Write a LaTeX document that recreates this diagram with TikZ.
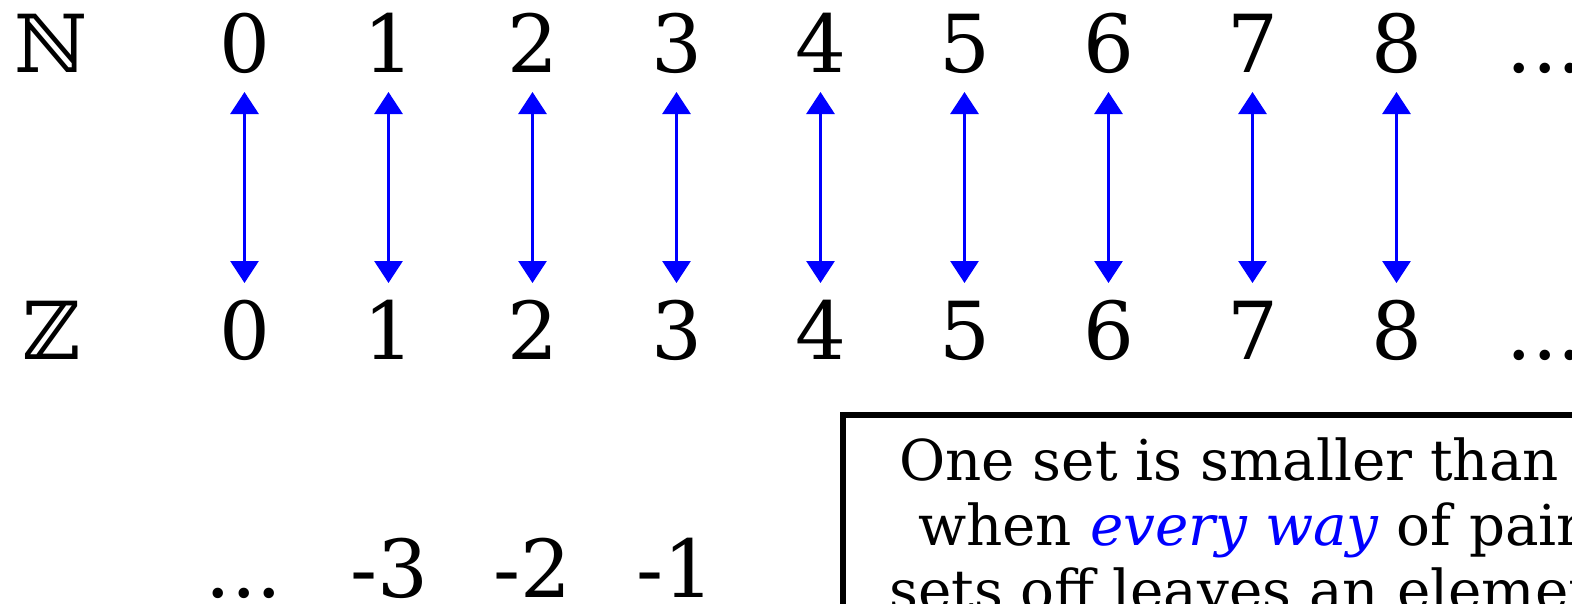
\documentclass[tikz,border=0pt]{standalone}
\usepackage{fontspec}
\setmainfont{DejaVu Serif}
\usetikzlibrary{arrows.meta}
\begin{document}
\begin{tikzpicture}[x=1pt,y=-1pt,
  big/.style={font=\fontsize{80}{96}\selectfont, inner sep=0pt, anchor=base},
  boxtext/.style={font=\fontsize{56.3}{65}\selectfont, inner sep=0pt, anchor=base west},
  pair/.style={blue, line width=3pt, {Triangle[width=28pt,length=22pt]}-{Triangle[width=28pt,length=22pt]}}]
\useasboundingbox (0,0) rectangle (1572,603);
\node[big] (N) at (51,72) {ℕ};
\node[big] (Z) at (52,359) {ℤ};
\foreach \i in {0,...,8}{
  \pgfmathsetmacro{\xx}{244.5+144*\i}
  \node[big] (n\i) at (\xx,72) {\i};
  \node[big] (z\i) at (\xx,359) {\i};
  \draw[pair] ([yshift=-20pt]n\i.base) -- ([yshift=76pt]z\i.base);
}
\node[big] (ndots) at (1545,72) {...};
\node[big] (zdots) at (1545,359) {...};
\node[big] (mdots) at (244,597) {...};
\node[big] (m3) at (389,597) {-3};
\node[big] (m2) at (532,597) {-2};
\node[big] (m1) at (675,597) {-1};
\draw[line width=6pt] (843,900) -- (843,415) -- (1800,415);
\node[boxtext] (l1) at (899,480) {One set is smaller than another};
\node[boxtext] (l2) at (918,545) {when \textcolor{blue}{\itshape every way} of pairing};
\node[boxtext] (l3) at (889,610) {sets off leaves an element};
\end{tikzpicture}
\end{document}
